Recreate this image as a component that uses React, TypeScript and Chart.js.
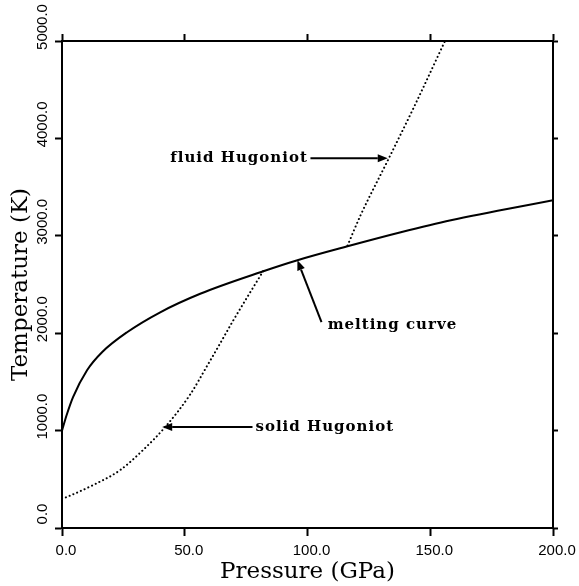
import React, { useEffect, useRef } from "react";
import { Chart, registerables } from "chart.js";
Chart.register(...registerables);

// Melting curve (solid line)
const meltP = [0, 1.9, 4.5, 10.2, 16.3, 26.5, 40, 56.3, 82, 95.9, 116.3, 138, 158.4, 200];
const meltT = [1000, 1160, 1344, 1620, 1805, 2010, 2215, 2405, 2636, 2749, 2892, 3036, 3159, 3364];

// Solid Hugoniot (dotted)
const solidP = [0, 1.9, 12.7, 23.7, 33, 42, 52.2, 59, 63.3, 69.8, 82];
const solidT = [300, 318, 441, 595, 800, 1036, 1370, 1660, 1846, 2133, 2640];

// Fluid Hugoniot (dotted)
const fluidP = [116.3, 121.6, 132.7, 143.3, 156];
const fluidT = [2900, 3210, 3774, 4318, 5000];

const xTicks = [0, 50, 100, 150, 200];
const yTicks = [0, 1000, 2000, 3000, 4000, 5000];

// Annotations (data coordinates)
const annoText = ["fluid Hugoniot", "melting curve", "solid Hugoniot"];
const annoTextP = [44.1, 108.2, 78.8];
const annoTextT = [3795, 2082, 1036];
const arrowFromP = [101.2, 105.7, 77.6];
const arrowFromT = [3795, 2113, 1036];
const arrowToP = [132.7, 95.9, 40.8];
const arrowToT = [3795, 2749, 1036];

const toXY = (p: number[], t: number[]) => p.map((v, i) => ({ x: v, y: t[i] }));

const serif = "'DejaVu Serif', serif";
const sans = "'Liberation Sans', Arial, sans-serif";

const annotationPlugin = {
  id: "annos",
  afterDatasetsDraw(chart: any) {
    const ctx = chart.ctx;
    const xs = chart.scales.x;
    const ys = chart.scales.y;
    ctx.save();
    // rotated y tick labels
    ctx.fillStyle = "#000";
    ctx.font = `15px ${sans}`;
    ctx.textAlign = "center";
    ctx.textBaseline = "middle";
    yTicks.forEach((v) => {
      const py = ys.getPixelForValue(v);
      ctx.save();
      ctx.translate(43, py - 14);
      ctx.rotate(-Math.PI / 2);
      ctx.fillText(v.toFixed(1), 0, 0);
      ctx.restore();
    });
    // arrows and texts
    ctx.strokeStyle = "#000";
    ctx.lineWidth = 2;
    annoText.forEach((txt, i) => {
      const x0 = xs.getPixelForValue(arrowFromP[i]);
      const y0 = ys.getPixelForValue(arrowFromT[i]);
      const x1 = xs.getPixelForValue(arrowToP[i]);
      const y1 = ys.getPixelForValue(arrowToT[i]);
      const ang = Math.atan2(y1 - y0, x1 - x0);
      const hl = 10, hw = 4;
      const bx = x1 - hl * Math.cos(ang);
      const by = y1 - hl * Math.sin(ang);
      ctx.beginPath();
      ctx.moveTo(x0, y0);
      ctx.lineTo(bx, by);
      ctx.stroke();
      ctx.beginPath();
      ctx.moveTo(x1, y1);
      ctx.lineTo(bx + hw * Math.sin(ang), by - hw * Math.cos(ang));
      ctx.lineTo(bx - hw * Math.sin(ang), by + hw * Math.cos(ang));
      ctx.closePath();
      ctx.fill();
      ctx.font = `bold 15px ${serif}`;
      ctx.textAlign = "left";
      ctx.textBaseline = "middle";
      (ctx as any).letterSpacing = "1px";
      ctx.fillText(txt, xs.getPixelForValue(annoTextP[i]), ys.getPixelForValue(annoTextT[i]));
      (ctx as any).letterSpacing = "0px";
    });
    ctx.restore();
  },
};

const bgPlugin = {
  id: "bg",
  beforeDraw(chart: any) {
    const ctx = chart.ctx;
    ctx.save();
    ctx.fillStyle = "#fff";
    ctx.fillRect(0, 0, chart.width, chart.height);
    ctx.restore();
  },
};

export default function App() {
  const ref = useRef<HTMLCanvasElement>(null);
  useEffect(() => {
    if (!ref.current) return;
    const dotted = {
      borderColor: "#000",
      borderWidth: 2,
      borderDash: [0.1, 4],
      borderCapStyle: "round" as const,
      pointRadius: 0,
      fill: false,
      cubicInterpolationMode: "monotone" as const,
    };
    const chart = new Chart(ref.current, {
      type: "line",
      data: {
        datasets: [
          {
            label: "melting curve",
            data: toXY(meltP, meltT),
            borderColor: "#000",
            borderWidth: 2,
            pointRadius: 0,
            fill: false,
            cubicInterpolationMode: "monotone",
          },
          { label: "solid Hugoniot", data: toXY(solidP, solidT), ...dotted },
          { label: "fluid Hugoniot", data: toXY(fluidP, fluidT), ...dotted },
        ],
      },
      options: {
        animation: false,
        responsive: false,
        maintainAspectRatio: false,
        layout: { padding: 0 },
        plugins: { legend: { display: false }, tooltip: { enabled: false } },
        scales: {
          x: {
            type: "linear",
            position: "bottom",
            min: 0,
            max: 200,
            afterBuildTicks: (s: any) => { s.ticks = xTicks.map((v) => ({ value: v })); },
            afterFit: (s: any) => { s.height = 58; },
            ticks: {
              color: "#000",
              font: { family: sans, size: 15 },
              padding: 6,
              labelOffset: 4,
              maxRotation: 0,
              callback: (v: any) => Number(v).toFixed(1),
            },
            grid: { drawOnChartArea: false, drawTicks: true, tickLength: 8, tickWidth: 2, tickColor: "#000" },
            border: { display: true, color: "#000", width: 2 },
            title: {
              display: true,
              text: "Pressure (GPa)",
              color: "#000",
              font: { family: serif, size: 23, lineHeight: 1.2 },
              padding: { top: 0, bottom: 0 },
            },
          },
          x2: {
            type: "linear",
            position: "top",
            min: 0,
            max: 200,
            afterBuildTicks: (s: any) => { s.ticks = xTicks.map((v) => ({ value: v })); },
            afterFit: (s: any) => { s.height = 41; },
            ticks: { display: false },
            grid: { drawOnChartArea: false, drawTicks: true, tickLength: 7, tickWidth: 2, tickColor: "#000" },
            border: { display: true, color: "#000", width: 2 },
          },
          y: {
            type: "linear",
            position: "left",
            min: 0,
            max: 5000,
            afterBuildTicks: (s: any) => { s.ticks = yTicks.map((v) => ({ value: v })); },
            afterFit: (s: any) => { s.width = 62; },
            ticks: { display: false },
            grid: { drawOnChartArea: false, drawTicks: true, tickLength: 7, tickWidth: 2, tickColor: "#000" },
            border: { display: true, color: "#000", width: 2 },
            title: {
              display: true,
              text: "Temperature (K)",
              color: "#000",
              font: { family: serif, size: 23, lineHeight: 1.2 },
              padding: { top: 7, bottom: 0 },
            },
          },
          y2: {
            type: "linear",
            position: "right",
            min: 0,
            max: 5000,
            afterBuildTicks: (s: any) => { s.ticks = yTicks.map((v) => ({ value: v })); },
            afterFit: (s: any) => { s.width = 26; },
            ticks: { display: false },
            grid: { drawOnChartArea: false, drawTicks: true, tickLength: 5, tickWidth: 2, tickColor: "#000" },
            border: { display: true, color: "#000", width: 2 },
          },
        },
      },
      plugins: [bgPlugin, annotationPlugin],
    });
    return () => chart.destroy();
  }, []);
  return (
    <div style={{ position: "fixed", left: 0, top: 0, width: 579, height: 586, background: "#fff" }}>
      <canvas ref={ref} width={579} height={586} style={{ display: "block", width: 579, height: 586 }} />
    </div>
  );
}
